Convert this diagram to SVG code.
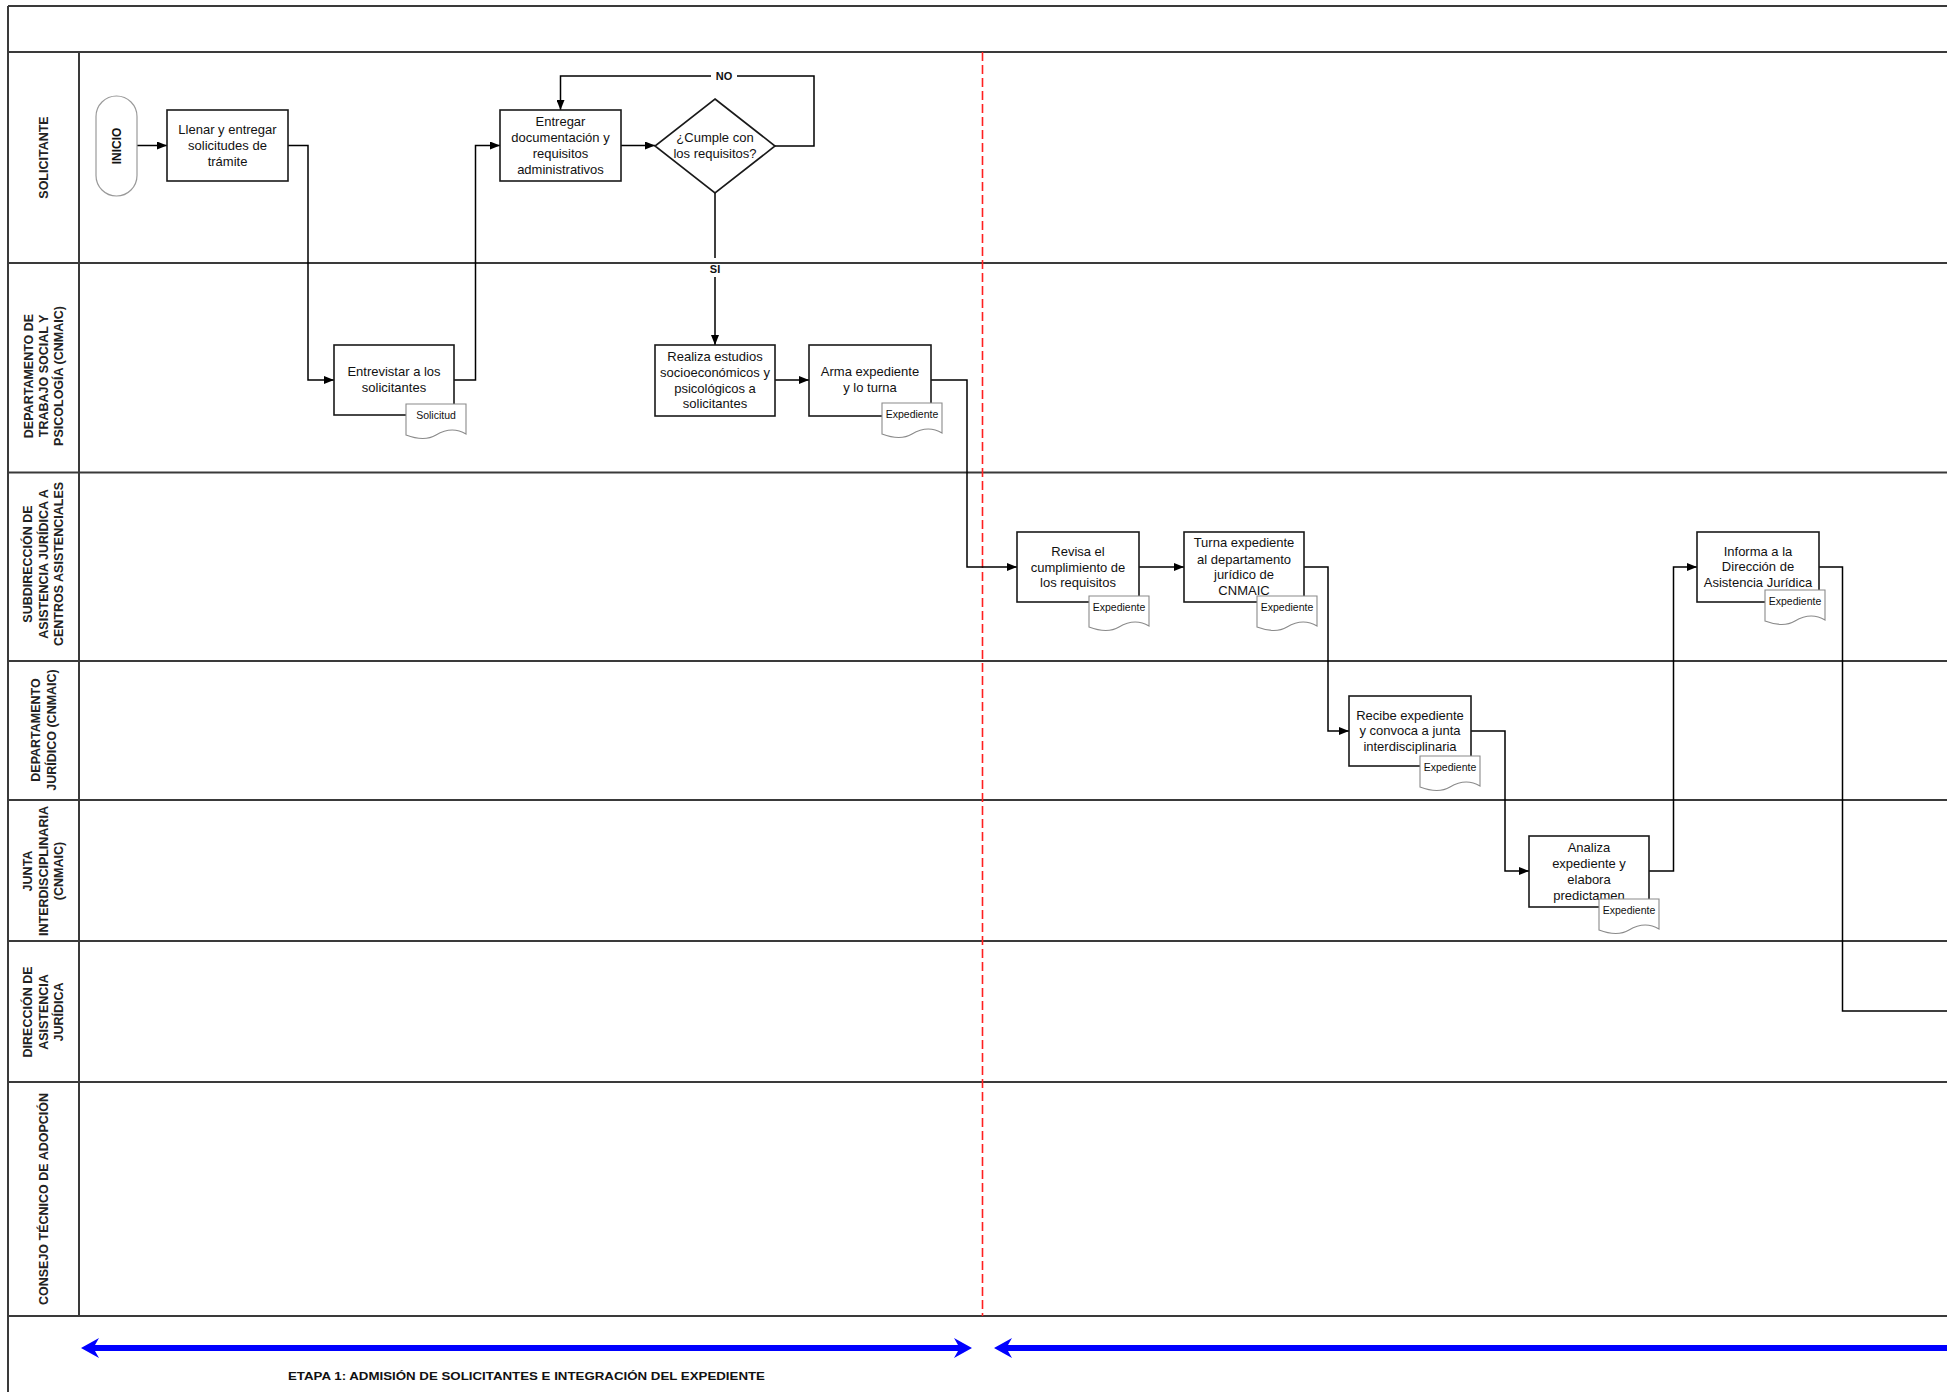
<svg xmlns="http://www.w3.org/2000/svg" width="1955" height="1392" viewBox="0 0 1955 1392">
<defs>
<style>
.lane{stroke:#3a3a3a;stroke-width:2;fill:none}
.box{fill:#fff;stroke:#1a1a1a;stroke-width:1.6}
.doc{fill:#fff;stroke:#8a8a8a;stroke-width:1.1}
.t{font-family:"Liberation Sans",Arial,sans-serif;font-size:13px;fill:#111;text-anchor:middle}
.dt{font-family:"Liberation Sans",Arial,sans-serif;font-size:10.5px;fill:#111;text-anchor:middle}
.lab{font-family:"Liberation Sans",Arial,sans-serif;font-size:12.5px;font-weight:bold;fill:#222;text-anchor:middle}
.lbl{font-family:"Liberation Sans",Arial,sans-serif;font-size:11px;font-weight:bold;fill:#111;text-anchor:middle}
.con{fill:none;stroke:#000;stroke-width:1.5}
.arr{marker-end:url(#ah)}
.stage{fill:#0000ff;stroke:none}
</style>
<marker id="ah" viewBox="0 0 10 8" refX="10" refY="4" markerWidth="10" markerHeight="8" orient="auto" markerUnits="userSpaceOnUse">
<path d="M0,0 L10,4 L0,8 Z" fill="#000"/>
</marker>
<path id="docshape" class="doc" d="M0,0 H60 V30 C50,24 40,25 30,31 C20,37 8,34 0,31 Z"/>
</defs>
<rect x="0" y="0" width="1955" height="1392" fill="#fff"/>

<g id="lanes">
<line class="lane" x1="8" y1="6" x2="1947" y2="6"/>
<line class="lane" x1="8" y1="52" x2="1947" y2="52"/>
<line class="lane" x1="8" y1="263" x2="1947" y2="263"/>
<line class="lane" x1="8" y1="472.5" x2="1947" y2="472.5"/>
<line class="lane" x1="8" y1="661" x2="1947" y2="661"/>
<line class="lane" x1="8" y1="800" x2="1947" y2="800"/>
<line class="lane" x1="8" y1="941" x2="1947" y2="941"/>
<line class="lane" x1="8" y1="1082" x2="1947" y2="1082"/>
<line class="lane" x1="8" y1="1316" x2="1947" y2="1316"/>
<line class="lane" x1="8" y1="6" x2="8" y2="1392"/>
<line class="lane" x1="79" y1="52" x2="79" y2="1316"/>
<text class="lab" transform="translate(43.5,157.5) rotate(-90)"><tspan x="0" y="4.5">SOLICITANTE</tspan></text>
<text class="lab" transform="translate(43.5,376) rotate(-90)"><tspan x="0" y="-11">DEPARTAMENTO DE</tspan><tspan x="0" y="4">TRABAJO SOCIAL Y</tspan><tspan x="0" y="19">PSICOLOGÍA (CNMAIC)</tspan></text>
<text class="lab" transform="translate(43.5,564) rotate(-90)"><tspan x="0" y="-11.5">SUBDIRECCIÓN DE</tspan><tspan x="0" y="4">ASISTENCIA JURÍDICA A</tspan><tspan x="0" y="19.5">CENTROS ASISTENCIALES</tspan></text>
<text class="lab" transform="translate(43.5,730) rotate(-90)"><tspan x="0" y="-4">DEPARTAMENTO</tspan><tspan x="0" y="12">JURÍDICO (CNMAIC)</tspan></text>
<text class="lab" transform="translate(43.5,871) rotate(-90)"><tspan x="0" y="-11.5">JUNTA</tspan><tspan x="0" y="4">INTERDISCIPLINARIA</tspan><tspan x="0" y="19.5">(CNMAIC)</tspan></text>
<text class="lab" transform="translate(43.5,1012) rotate(-90)"><tspan x="0" y="-11.5">DIRECCIÓN DE</tspan><tspan x="0" y="4">ASISTENCIA</tspan><tspan x="0" y="19.5">JURÍDICA</tspan></text>
<text class="lab" transform="translate(43.5,1199) rotate(-90)"><tspan x="0" y="4.5">CONSEJO TÉCNICO DE ADOPCIÓN</tspan></text>
</g>

<line id="stage-divider" x1="982.5" y1="52" x2="982.5" y2="1316" stroke="#ff2020" stroke-width="1.6" stroke-dasharray="9 4"/>

<g id="connectors">
<path class="con arr" d="M137,145.5 H167"/>
<path class="con arr" d="M288,145.5 H308 V380 H334"/>
<path class="con arr" d="M454,380 H475.5 V145.5 H500"/>
<path class="con arr" d="M621,145.5 H655"/>
<path class="con arr" d="M775,146 H814 V76 H560.5 V110"/>
<rect x="711" y="69" width="26" height="13" fill="#fff"/>
<text class="lbl" x="724" y="79.5">NO</text>
<path class="con arr" d="M715,193 V258 M715,277 V345"/>
<text class="lbl" x="715" y="272.5">SI</text>
<path class="con arr" d="M775,380 H809"/>
<path class="con arr" d="M931,380 H967 V567 H1017"/>
<path class="con arr" d="M1139,567 H1184"/>
<path class="con arr" d="M1304,567 H1328 V731 H1349"/>
<path class="con arr" d="M1471,731 H1505 V871 H1529"/>
<path class="con arr" d="M1649,871 H1673.5 V567 H1697"/>
<path class="con" d="M1819,567 H1842.5 V1011 H1947"/>
</g>

<g id="n-inicio">
<rect x="96" y="96" width="41" height="100" rx="20.5" ry="20.5" fill="#fff" stroke="#9a9a9a" stroke-width="1.2"/>
<text class="lbl" transform="translate(116.5,146) rotate(-90)"><tspan x="0" y="4.2" font-size="12">INICIO</tspan></text>
</g>

<g id="n-llenar">
<rect class="box" x="167" y="110" width="121" height="71"/>
<text class="t"><tspan x="227.5" y="134">Llenar y entregar</tspan><tspan x="227.5" y="150">solicitudes de</tspan><tspan x="227.5" y="166">trámite</tspan></text>
</g>

<g id="n-entrevistar">
<rect class="box" x="334" y="345" width="120" height="70"/>
<text class="t"><tspan x="394" y="376">Entrevistar a los</tspan><tspan x="394" y="392">solicitantes</tspan></text>
<use href="#docshape" x="406" y="404"/>
<text class="dt" x="436" y="419">Solicitud</text>
</g>

<g id="n-entregar">
<rect class="box" x="500" y="110" width="121" height="71"/>
<text class="t"><tspan x="560.5" y="126">Entregar</tspan><tspan x="560.5" y="142">documentación y</tspan><tspan x="560.5" y="158">requisitos</tspan><tspan x="560.5" y="174">administrativos</tspan></text>
</g>

<g id="n-cumple">
<polygon class="box" points="715,99 775,146 715,193 655,146"/>
<text class="t"><tspan x="715" y="141.5">¿Cumple con</tspan><tspan x="715" y="157.5">los requisitos?</tspan></text>
</g>

<g id="n-realiza">
<rect class="box" x="655" y="345" width="120" height="71"/>
<text class="t"><tspan x="715" y="360.5">Realiza estudios</tspan><tspan x="715" y="376.5">socioeconómicos y</tspan><tspan x="715" y="392.5">psicológicos a</tspan><tspan x="715" y="408">solicitantes</tspan></text>
</g>

<g id="n-arma">
<rect class="box" x="809" y="345" width="122" height="71"/>
<text class="t"><tspan x="870" y="376">Arma expediente</tspan><tspan x="870" y="392">y lo turna</tspan></text>
<use href="#docshape" x="882" y="403"/>
<text class="dt" x="912" y="418">Expediente</text>
</g>

<g id="n-revisa">
<rect class="box" x="1017" y="532" width="122" height="70"/>
<text class="t"><tspan x="1078" y="556">Revisa el</tspan><tspan x="1078" y="571.5">cumplimiento de</tspan><tspan x="1078" y="587">los requisitos</tspan></text>
<use href="#docshape" x="1089" y="596"/>
<text class="dt" x="1119" y="611">Expediente</text>
</g>

<g id="n-turna">
<rect class="box" x="1184" y="532" width="120" height="70"/>
<text class="t"><tspan x="1244" y="547">Turna expediente</tspan><tspan x="1244" y="563.5">al departamento</tspan><tspan x="1244" y="579">jurídico de</tspan><tspan x="1244" y="594.5">CNMAIC</tspan></text>
<use href="#docshape" x="1257" y="596"/>
<text class="dt" x="1287" y="611">Expediente</text>
</g>

<g id="n-recibe">
<rect class="box" x="1349" y="696" width="122" height="70"/>
<text class="t"><tspan x="1410" y="719.5">Recibe expediente</tspan><tspan x="1410" y="735">y convoca a junta</tspan><tspan x="1410" y="751">interdisciplinaria</tspan></text>
<use href="#docshape" x="1420" y="756"/>
<text class="dt" x="1450" y="771">Expediente</text>
</g>

<g id="n-analiza">
<rect class="box" x="1529" y="836" width="120" height="71"/>
<text class="t"><tspan x="1589" y="852">Analiza</tspan><tspan x="1589" y="867.5">expediente y</tspan><tspan x="1589" y="883.5">elabora</tspan><tspan x="1589" y="899.5">predictamen</tspan></text>
<use href="#docshape" x="1599" y="899"/>
<text class="dt" x="1629" y="914">Expediente</text>
</g>

<g id="n-informa">
<rect class="box" x="1697" y="532" width="122" height="70"/>
<text class="t"><tspan x="1758" y="555.5">Informa a la</tspan><tspan x="1758" y="571">Dirección de</tspan><tspan x="1758" y="587">Asistencia Jurídica</tspan></text>
<use href="#docshape" x="1765" y="590"/>
<text class="dt" x="1795" y="605">Expediente</text>
</g>

<g id="stages">
<path class="stage" d="M81,1348 L99,1338 L95,1345 L958,1345 L954,1338 L972,1348 L954,1358 L958,1351 L95,1351 L99,1358 Z"/>
<path class="stage" d="M994,1348 L1012,1338 L1008,1345 L1947,1345 L1947,1351 L1008,1351 L1012,1358 Z"/>
<text class="lbl" x="526.5" y="1380" font-size="12.5" textLength="477" lengthAdjust="spacingAndGlyphs">ETAPA 1: ADMISIÓN DE SOLICITANTES E INTEGRACIÓN DEL EXPEDIENTE</text>
</g>
</svg>
